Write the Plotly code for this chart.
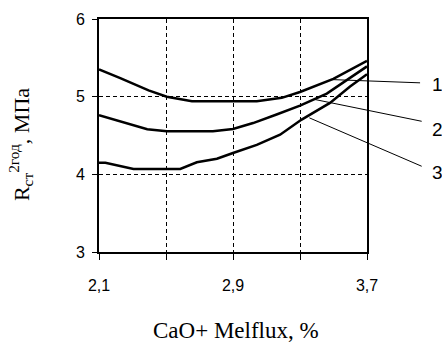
import plotly.graph_objects as go

# ---- data ----
x1 = [2.10, 2.227, 2.396, 2.505, 2.655, 3.042, 3.191, 3.30, 3.499, 3.70]
y1 = [5.35, 5.24, 5.08, 5.00, 4.94, 4.94, 4.985, 5.06, 5.23, 5.46]

x2 = [2.10, 2.388, 2.505, 2.78, 2.90, 3.02, 3.16, 3.30, 3.46, 3.70]
y2 = [4.76, 4.58, 4.555, 4.555, 4.585, 4.66, 4.77, 4.885, 5.04, 5.39]

x3 = [2.10, 2.138, 2.306, 2.585, 2.684, 2.804, 2.90, 3.042, 3.181, 3.31, 3.479, 3.599, 3.70]
y3 = [4.15, 4.15, 4.07, 4.07, 4.155, 4.20, 4.275, 4.38, 4.51, 4.705, 4.92, 5.13, 5.29]

curve_labels = ["1", "2", "3"]
leader_x = [3.489, 3.39, 3.356]      # points on curves where leaders start
leader_y = [5.22, 4.963, 4.727]

x_ticks = [2.1, 2.9, 3.7]
x_ticktext = ["2,1", "2,9", "3,7"]
x_minor_ticks = [2.5, 3.3]
y_ticks = [3, 4, 5, 6]
x_range = [2.1, 3.7]
y_range = [3, 6]

# ---- figure ----
fig = go.Figure()
for xs, ys in [(x1, y1), (x2, y2), (x3, y3)]:
    fig.add_trace(go.Scatter(x=xs, y=ys, mode="lines",
                             line=dict(color="black", width=2.5),
                             showlegend=False, hoverinfo="skip"))

def to_paper_x(v):
    return (v - x_range[0]) / (x_range[1] - x_range[0])

def to_paper_y(v):
    return (v - y_range[0]) / (y_range[1] - y_range[0])

# leader line end points and label positions (paper coords)
end_px = [1.198, 1.204, 1.204]
end_py = [0.726, 0.561, 0.368]
lab_px = 1.262
lab_py = [0.72, 0.525, 0.343]

sans = "Liberation Sans, Arial, sans-serif"
serif = "Liberation Serif, Times New Roman, serif"

for i, lab in enumerate(curve_labels):
    fig.add_shape(type="line", xref="paper", yref="paper",
                  x0=to_paper_x(leader_x[i]), y0=to_paper_y(leader_y[i]),
                  x1=end_px[i], y1=end_py[i],
                  line=dict(color="black", width=1))
    fig.add_annotation(text=lab, xref="paper", yref="paper",
                       x=lab_px, y=lab_py[i], showarrow=False,
                       xanchor="center", yanchor="middle",
                       font=dict(family=sans, size=19, color="black"))

fig.add_annotation(text="R<sub>ст</sub><sup>2год</sup>, МПа",
                   xref="paper", yref="paper", x=-0.29, y=0.46,
                   textangle=-90, showarrow=False,
                   xanchor="center", yanchor="middle",
                   font=dict(family=serif, size=22, color="black"))
fig.add_annotation(text="CaO+ Melflux, %",
                   xref="paper", yref="paper", x=0.51, y=-0.335,
                   showarrow=False, xanchor="center", yanchor="middle",
                   font=dict(family=serif, size=23, color="black"))

grid = dict(showgrid=True, gridcolor="black", gridwidth=1, griddash="4px,3px")

fig.update_xaxes(range=x_range, tickvals=x_ticks, ticktext=x_ticktext,
                 showline=True, linecolor="black", linewidth=2, mirror=True,
                 ticks="outside", ticklen=6, tickcolor="black", tickwidth=1,
                 ticklabelstandoff=12, automargin=False,
                 zeroline=False,
                 minor=dict(tickvals=x_minor_ticks, ticks="outside", ticklen=6,
                            tickcolor="black", tickwidth=1, **grid),
                 tickfont=dict(family=sans, size=16, color="black"), **grid)
fig.update_yaxes(range=y_range, tickvals=y_ticks,
                 showline=True, linecolor="black", linewidth=2, mirror=True,
                 ticks="outside", ticklen=5, tickcolor="black", tickwidth=1,
                 ticklabelstandoff=4, automargin=False,
                 zeroline=False,
                 tickfont=dict(family=sans, size=16, color="black"), **grid)

fig.update_layout(width=442, height=342,
                  margin=dict(l=99, r=75, t=19, b=90, autoexpand=False),
                  paper_bgcolor="white", plot_bgcolor="white")

fig.write_html("out.html",
               config={"displayModeBar": False},
               post_script="document.body.style.margin='0';"
                           "document.body.style.overflow='hidden';")
